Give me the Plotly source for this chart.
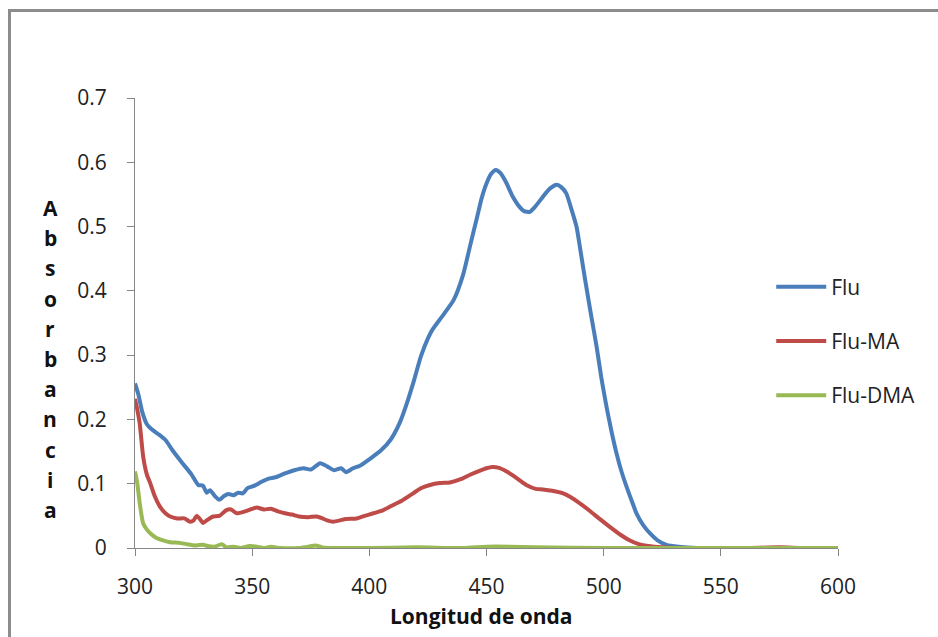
import plotly.graph_objects as go

# ---- data ----
flu_x = [300, 301.5, 303, 305, 307, 310, 313, 316, 320, 324, 327, 329, 330.6, 332, 334, 336, 338, 340, 342, 344,
         346, 348, 351, 354, 357, 360, 364, 368, 372, 375, 379, 382, 385, 388, 390, 393, 396, 400, 405, 409,
         413, 416, 419, 422, 425, 427, 431, 436, 440, 443, 446, 448, 450, 452, 454, 456, 458.6, 461, 464, 466,
         468.5, 471, 474, 477, 480, 482, 484, 486, 488.4, 490, 492.1, 494.5, 497, 499, 501.2, 503.3, 505.5,
         507.6, 509.8, 512, 514, 516.8, 519.7, 523, 526.8, 532, 540, 600]
flu_y = [0.256, 0.238, 0.213, 0.193, 0.185, 0.177, 0.168, 0.152, 0.133, 0.115, 0.098, 0.097, 0.086, 0.090, 0.081,
         0.075, 0.081, 0.084, 0.082, 0.086, 0.085, 0.093, 0.097, 0.103, 0.108, 0.110, 0.116, 0.121, 0.124, 0.122,
         0.132, 0.127, 0.121, 0.124, 0.118, 0.124, 0.128, 0.138, 0.152, 0.168, 0.195, 0.225, 0.260, 0.298, 0.326,
         0.340, 0.360, 0.386, 0.425, 0.470, 0.515, 0.545, 0.567, 0.582, 0.588, 0.583, 0.567, 0.548, 0.531, 0.524,
         0.523, 0.532, 0.546, 0.559, 0.565, 0.561, 0.552, 0.530, 0.500, 0.465, 0.417, 0.365, 0.313, 0.265, 0.220,
         0.182, 0.147, 0.119, 0.095, 0.073, 0.054, 0.036, 0.023, 0.012, 0.005, 0.002, 0.0, 0.0]

ma_x = [300, 301, 302, 303.5, 305, 306.5, 308.5, 310.7, 313, 315, 318, 321, 323.5, 325, 326.3, 327.5, 329, 331,
        333.4, 336, 339, 341, 343.4, 347, 350, 352, 355, 358, 361, 364, 367, 370, 374, 377.5, 380, 382, 384.6,
        387.5, 390, 394.6, 398, 401.7, 406, 410.2, 414, 418.7, 422, 425.9, 430, 434.4, 439, 443, 447, 450, 452.5,
        455, 458.6, 462, 467, 471, 474, 478, 482.7, 486, 490, 494, 498, 502.6, 507, 511, 515, 519, 525, 532,
        540, 560, 575, 585, 600]
ma_y = [0.232, 0.215, 0.194, 0.142, 0.115, 0.101, 0.080, 0.064, 0.054, 0.049, 0.046, 0.046, 0.041, 0.043, 0.050,
        0.046, 0.039, 0.044, 0.049, 0.050, 0.059, 0.060, 0.054, 0.057, 0.061, 0.063, 0.060, 0.061, 0.057, 0.054,
        0.052, 0.049, 0.048, 0.049, 0.046, 0.043, 0.041, 0.043, 0.045, 0.046, 0.050, 0.054, 0.059, 0.067, 0.074,
        0.085, 0.093, 0.098, 0.101, 0.102, 0.107, 0.114, 0.120, 0.124, 0.126, 0.125, 0.119, 0.111, 0.098, 0.092,
        0.091, 0.089, 0.085, 0.079, 0.069, 0.058, 0.046, 0.033, 0.021, 0.012, 0.006, 0.003, 0.001, 0.0,
        0.0, 0.0, 0.001, 0.0, 0.0]

dma_x = [300, 301, 302, 303.5, 305, 306.5, 309, 312, 315, 319, 322, 326, 329, 331, 334, 337, 339, 342, 345, 349,
         352, 355, 358, 362, 370, 374, 377, 380, 385, 400, 420, 440, 450, 460, 470, 500, 600]
dma_y = [0.119, 0.100, 0.070, 0.038, 0.029, 0.023, 0.016, 0.012, 0.009, 0.008, 0.006, 0.004, 0.005, 0.003, 0.002,
         0.006, 0.001, 0.002, 0.000, 0.003, 0.002, 0.000, 0.002, 0.000, 0.000, 0.002, 0.004, 0.001, 0.000, 0.000,
         0.001, 0.000, 0.002, 0.002, 0.001, 0.000, 0.000]

series = [("Flu", flu_x, flu_y, "#4A7EBB"),
          ("Flu-MA", ma_x, ma_y, "#BE4B48"),
          ("Flu-DMA", dma_x, dma_y, "#98B954")]

x_ticks = [300, 350, 400, 450, 500, 550, 600]
y_ticks = [0, 0.1, 0.2, 0.3, 0.4, 0.5, 0.6, 0.7]
y_tick_labels = ["0", "0.1", "0.2", "0.3", "0.4", "0.5", "0.6", "0.7"]
x_title = "Longitud de onda"
y_title = "Absorbancia"

FONT = "Open Sans"
GRAY = "#868686"

fig = go.Figure()
for i, (name, xs, ys, col) in enumerate(series):
    fig.add_trace(go.Scatter(x=xs, y=ys, name=name, mode="lines",
                             line=dict(color=col, width=4, shape="spline", smoothing=0.6),
                             legendgroup=f"g{i}"))

fig.update_layout(
    width=938, height=637,
    margin=dict(l=135, r=100, t=98, b=89),
    paper_bgcolor="white", plot_bgcolor="white",
    font=dict(family=FONT, size=21, color="#222222"),
    showlegend=True,
    legend=dict(x=0.905, xanchor="left", y=0.6256, yanchor="top",
                traceorder="grouped", tracegroupgap=24,
                font=dict(family=FONT, size=21, color="#222222"),
                itemwidth=50, bgcolor="rgba(0,0,0,0)"),
    xaxis=dict(range=[300, 600], tickvals=x_ticks, showgrid=False, zeroline=False,
               showline=True, linecolor=GRAY, linewidth=1,
               ticks="outside", ticklen=7, tickcolor=GRAY, ticklabelstandoff=13,
               tickfont=dict(family=FONT, size=21, color="#222222")),
    yaxis=dict(range=[0, 0.7], tickvals=y_ticks, ticktext=y_tick_labels, showgrid=False, zeroline=False,
               showline=True, linecolor=GRAY, linewidth=1,
               ticks="outside", ticklen=7, tickcolor=GRAY, ticklabelstandoff=16,
               tickfont=dict(family=FONT, size=21, color="#222222")),
)

# outer frame (gray border, partly cut by the window)
fig.add_shape(type="rect", xref="paper", yref="paper",
              x0=(9.5 - 135) / 703, x1=1.25, y0=-0.3, y1=(548 - 10.5) / 450,
              line=dict(color="#8C8C8C", width=3), fillcolor="rgba(0,0,0,0)", layer="below")

# x axis title
fig.add_annotation(text=f"<b>{x_title}</b>", xref="paper", yref="paper",
                   x=(481 - 135) / 703, y=(548 - 616) / 450, showarrow=False,
                   font=dict(family=FONT, size=21, color="#111111"), xanchor="center", yanchor="middle")

# y axis title, stacked letters
n = len(y_title)
for k, ch in enumerate(y_title):
    py = 208 + k * (510 - 208) / (n - 1)
    fig.add_annotation(text=f"<b>{ch}</b>", xref="paper", yref="paper",
                       x=(50 - 135) / 703, y=(548 - py) / 450, showarrow=False,
                       font=dict(family=FONT, size=21, color="#111111"), xanchor="center", yanchor="middle")

fig.write_html("out.html")
